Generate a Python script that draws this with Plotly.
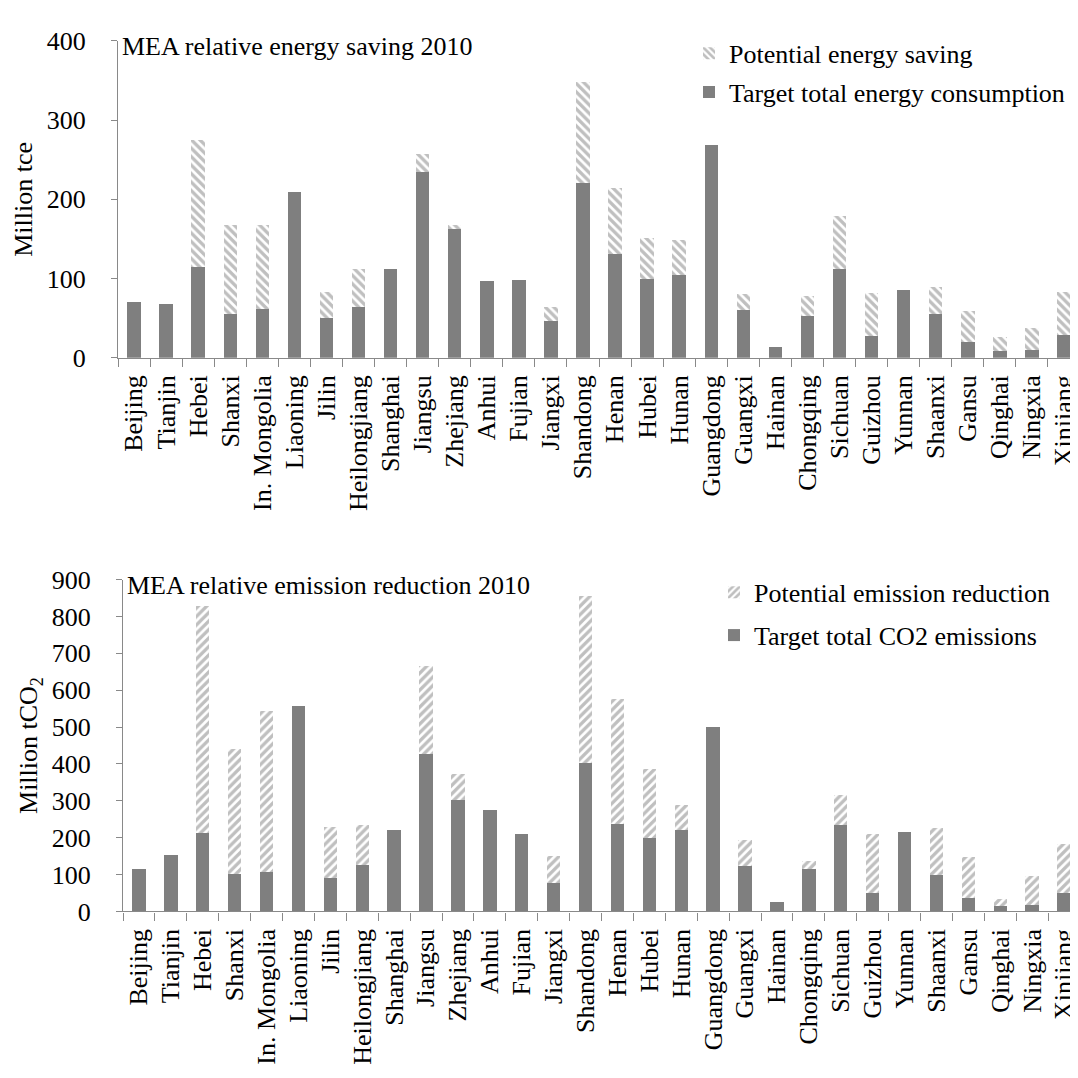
import plotly.graph_objects as go

provinces = ["Beijing", "Tianjin", "Hebei", "Shanxi", "In. Mongolia", "Liaoning", "Jilin",
             "Heilongjiang", "Shanghai", "Jiangsu", "Zhejiang", "Anhui", "Fujian", "Jiangxi",
             "Shandong", "Henan", "Hubei", "Hunan", "Guangdong", "Guangxi", "Hainan",
             "Chongqing", "Sichuan", "Guizhou", "Yunnan", "Shaanxi", "Gansu", "Qinghai",
             "Ningxia", "Xinjiang"]

# Energy (Million tce)
energy_target = [70, 68, 115, 55, 62, 209, 50, 64, 112, 234, 162, 97, 98, 47,
                 221, 131, 100, 105, 269, 60, 13, 53, 112, 27, 86, 55, 20, 8, 10, 29]
energy_total = [70, 68, 275, 167, 167, 209, 83, 112, 112, 257, 168, 97, 98, 64,
                348, 214, 151, 149, 269, 80, 13, 78, 179, 82, 86, 89, 59, 26, 37, 83]
energy_saving = [t - g for t, g in zip(energy_total, energy_target)]

# Emissions (Million tCO2)
co2_target = [116, 154, 212, 102, 107, 558, 90, 125, 220, 428, 303, 276, 209, 77,
              402, 237, 200, 222, 500, 123, 26, 116, 234, 50, 216, 100, 36, 14, 18, 50]
co2_total = [116, 154, 828, 441, 544, 558, 229, 235, 220, 665, 374, 276, 209, 150,
             856, 575, 386, 288, 500, 193, 26, 137, 315, 210, 216, 227, 148, 33, 97, 183]
co2_reduction = [t - g for t, g in zip(co2_total, co2_target)]

GRAY = "#7f7f7f"
AXIS = "#898989"
FONT = "Liberation Serif"
FS = 26

fig = go.Figure()

fig.add_trace(go.Bar(x=provinces, y=energy_target, name="Target total energy consumption",
                     marker=dict(color=GRAY, line=dict(width=0)),
                     xaxis="x", yaxis="y", legend="legend", legendrank=2, legendgroup="e2"))
fig.add_trace(go.Bar(x=provinces, y=energy_saving, name="Potential energy saving",
                     marker=dict(color="white", line=dict(width=0),
                                 pattern=dict(shape="\\", fgcolor=GRAY, bgcolor="white",
                                              size=6, solidity=0.55)),
                     xaxis="x", yaxis="y", legend="legend", legendrank=1, legendgroup="e1"))

fig.add_trace(go.Bar(x=provinces, y=co2_target, name="Target total CO2 emissions",
                     marker=dict(color=GRAY, line=dict(width=0)),
                     xaxis="x2", yaxis="y2", legend="legend2", legendrank=2, legendgroup="c2"))
fig.add_trace(go.Bar(x=provinces, y=co2_reduction, name="Potential emission reduction",
                     marker=dict(color="white", line=dict(width=0),
                                 pattern=dict(shape="/", fgcolor=GRAY, bgcolor="white",
                                              size=6, solidity=0.55)),
                     xaxis="x2", yaxis="y2", legend="legend2", legendrank=1, legendgroup="c1"))

H = 1078.0
def ydom(top_px, bot_px):
    return [1 - bot_px / H, 1 - top_px / H]

xaxis_common = dict(type="category", showline=True, linecolor=AXIS, linewidth=1.3,
                    ticks="outside", tickson="boundaries", ticklen=8, tickcolor=AXIS,
                    tickwidth=1.3, tickangle=-90, ticklabelstandoff=6,
                    tickfont=dict(family=FONT, size=FS, color="black"),
                    showgrid=False, zeroline=False)
yaxis_common = dict(showline=True, linecolor=AXIS, linewidth=1.3, ticks="outside",
                    ticklen=6, tickcolor=AXIS, tickwidth=1.3, ticklabelstandoff=20,
                    tickfont=dict(family=FONT, size=FS, color="black"),
                    showgrid=False, zeroline=False)

fig.update_layout(
    width=1078, height=1078, autosize=False,
    margin=dict(l=0, r=0, t=0, b=0),
    paper_bgcolor="white", plot_bgcolor="white",
    barmode="stack", bargap=0.58,
    font=dict(family=FONT, size=FS, color="black"),
    showlegend=True,
    xaxis=dict(domain=[110 / H, 1072 / H], anchor="y", **xaxis_common),
    yaxis=dict(domain=ydom(19.5, 345), anchor="x", range=[0, 400], dtick=100,
               title=dict(text="Million tce", font=dict(family=FONT, size=FS), standoff=6),
               **yaxis_common),
    xaxis2=dict(domain=[115 / H, 1072 / H], anchor="y2", **xaxis_common),
    yaxis2=dict(domain=ydom(573, 914), anchor="x2", range=[0, 900], dtick=100,
                title=dict(text="Million tCO<sub>2</sub>", font=dict(family=FONT, size=FS), standoff=6),
                **yaxis_common),
    legend=dict(x=681 / H, y=1 - 8 / H, xanchor="left", yanchor="top",
                bgcolor="rgba(0,0,0,0)", font=dict(family=FONT, size=FS),
                traceorder="grouped", tracegroupgap=2, itemwidth=30),
    legend2=dict(x=706 / H, y=1 - 562 / H, xanchor="left", yanchor="top",
                 bgcolor="rgba(0,0,0,0)", font=dict(family=FONT, size=FS),
                 traceorder="grouped", tracegroupgap=6, itemwidth=30),
    annotations=[
        dict(text="MEA relative energy saving 2010", x=112 / H, y=1 - 8 / H,
             xref="paper", yref="paper", xanchor="left", yanchor="top", showarrow=False,
             font=dict(family=FONT, size=FS, color="black")),
        dict(text="MEA relative emission reduction 2010", x=117 / H, y=1 - 562 / H,
             xref="paper", yref="paper", xanchor="left", yanchor="top", showarrow=False,
             font=dict(family=FONT, size=FS, color="black")),
    ],
)

fig.write_html("out.html")
